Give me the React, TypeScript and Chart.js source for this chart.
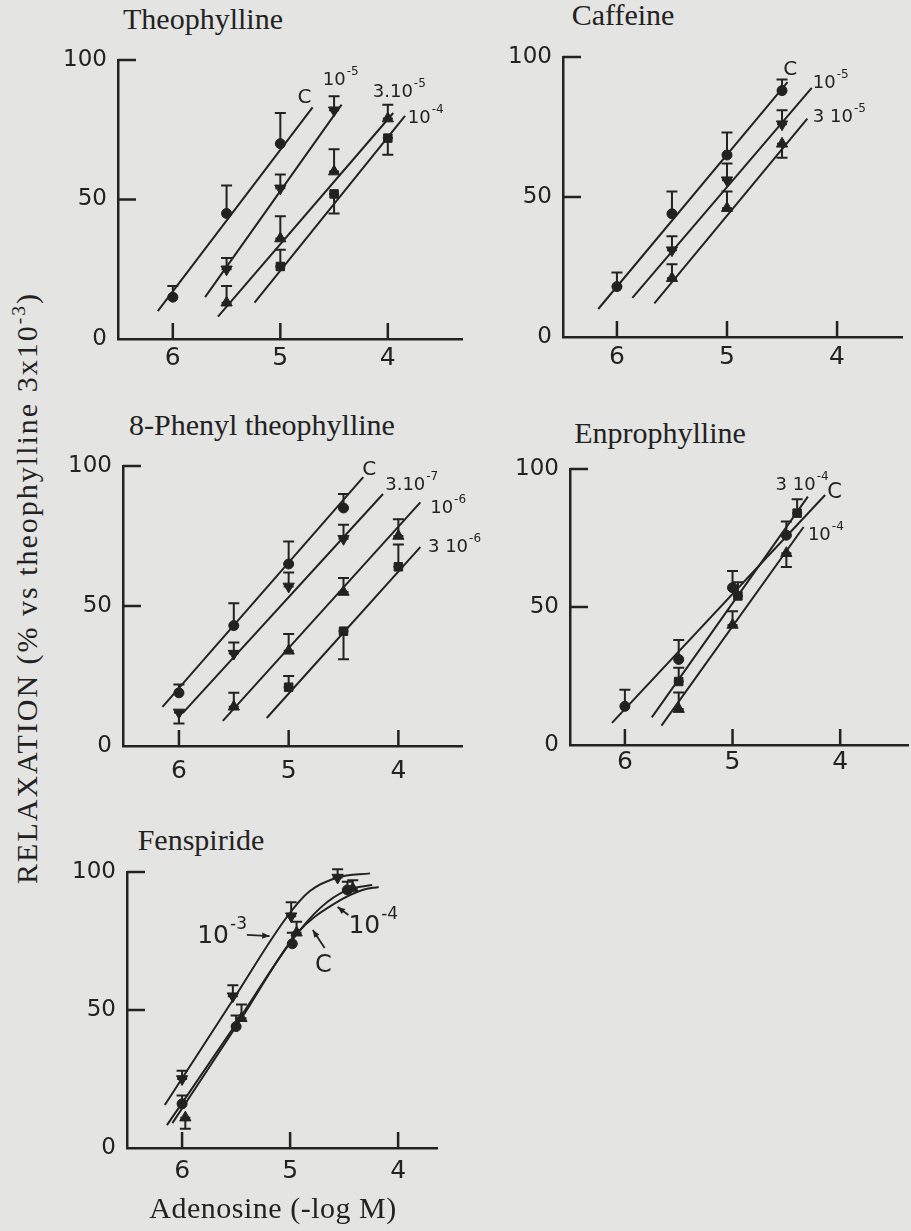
import React, { useEffect, useRef } from "react";
import { Chart, registerables } from "chart.js";

Chart.register(...registerables);

const INK = "#222222";
const PAPER = "#e4e4e2";
const SANS = "'DejaVu Sans', sans-serif";
const SERIF = "'Liberation Serif', serif";

// shared axis ticks
const X_TICKS = [6, 5, 4];
const Y_TICKS = [0, 50, 100];
const Y_MARKS = [50, 100];

// ---------- Theophylline ----------
const theoC_x = [6, 5.5, 5];
const theoC_y = [15, 45, 70];
const theoC_err = [4, 10, 11];
const theoC_fitX = [6.14, 4.7];
const theoC_fitY = [10, 83];

const theo1e5_x = [5.5, 5, 4.5];
const theo1e5_y = [25, 54, 82];
const theo1e5_err = [4, 5, 5];
const theo1e5_fitX = [5.7, 4.43];
const theo1e5_fitY = [15, 84];

const theo3e5_x = [5.5, 5, 4.5, 4];
const theo3e5_y = [13, 36, 60, 79];
const theo3e5_err = [6, 8, 8, 5];
const theo3e5_fitX = [5.58, 3.95];
const theo3e5_fitY = [8, 81];

const theo1e4_x = [5, 4.5, 4];
const theo1e4_y = [26, 52, 72];
const theo1e4_err = [6, -7, -6];
const theo1e4_fitX = [5.24, 3.84];
const theo1e4_fitY = [13, 80];

// ---------- Caffeine ----------
const cafC_x = [6, 5.5, 5, 4.5];
const cafC_y = [18, 44, 65, 88];
const cafC_err = [5, 8, 8, 4];
const cafC_fitX = [6.17, 4.45];
const cafC_fitY = [10, 91];

const caf1e5_x = [5.5, 5, 4.5];
const caf1e5_y = [31, 56, 76];
const caf1e5_err = [5, 6, 5];
const caf1e5_fitX = [5.86, 4.23];
const caf1e5_fitY = [14, 89];

const caf3e5_x = [5.5, 5, 4.5];
const caf3e5_y = [21, 46, 69];
const caf3e5_err = [5, 6, -5];
const caf3e5_fitX = [5.66, 4.27];
const caf3e5_fitY = [12, 78];

// ---------- 8-Phenyl theophylline ----------
const phC_x = [6, 5.5, 5, 4.5];
const phC_y = [19, 43, 65, 85];
const phC_err = [3, 8, 8, 5];
const phC_fitX = [6.15, 4.32];
const phC_fitY = [14, 96];

const ph3e7_x = [6, 5.5, 5, 4.5];
const ph3e7_y = [12, 33, 57, 74];
const ph3e7_err = [-4, 4, 5, 5];
const ph3e7_fitX = [5.96, 4.14];
const ph3e7_fitY = [12, 90];

const ph1e6_x = [5.5, 5, 4.5, 4];
const ph1e6_y = [14, 34, 55, 75];
const ph1e6_err = [5, 6, 5, 6];
const ph1e6_fitX = [5.6, 3.8];
const ph1e6_fitY = [9, 87];

const ph3e6_x = [5, 4.5, 4];
const ph3e6_y = [21, 41, 64];
const ph3e6_err = [4, -10, 8];
const ph3e6_fitX = [5.2, 3.8];
const ph3e6_fitY = [10, 71];

// ---------- Enprophylline ----------
const enC_x = [6, 5.5, 5, 4.5];
const enC_y = [14, 31, 57, 76];
const enC_err = [6, 7, 6, 5];
const enC_fitX = [6.12, 4.14];
const enC_fitY = [8, 90.6];

const en3e4_x = [5.5, 4.95, 4.4];
const en3e4_y = [23, 54, 84];
const en3e4_err = [5, 5, 5];
const en3e4_fitX = [5.75, 4.3];
const en3e4_fitY = [10, 90];

const en1e4_x = [5.5, 5, 4.5];
const en1e4_y = [13, 43.5, 69.5];
const en1e4_err = [6, 5, -5];
const en1e4_fitX = [5.66, 4.34];
const en1e4_fitY = [7, 79];

// ---------- Fenspiride ----------
const fen1e3_x = [6, 5.53, 4.99, 4.56];
const fen1e3_y = [25, 55, 84, 98];
const fen1e3_err = [3, 4, 5, 3];
const fen1e3_curveX = [6.16, 5.53, 5.03, 4.82, 4.56, 4.26];
const fen1e3_curveY = [15.6, 53.6, 83.7, 93, 98, 99.5];

const fenC_x = [6, 5.5, 4.98, 4.47];
const fenC_y = [16, 44, 74, 93.5];
const fenC_err = [3, 4, 4, 3];
const fenC_curveX = [6.14, 5.5, 4.98, 4.72, 4.47, 4.24];
const fenC_curveY = [8.3, 45, 75.4, 87, 93.5, 95.3];

const fen1e4_x = [5.97, 5.45, 4.94, 4.42];
const fen1e4_y = [11, 47, 78, 94];
const fen1e4_err = [-4, 5, 4, 3];
const fen1e4_curveX = [6.09, 5.45, 4.93, 4.57, 4.33, 4.18];
const fen1e4_curveY = [9, 47, 78, 89, 93.5, 94.6];

// ---------- types ----------
type Marker = "circle" | "triangle" | "rect" | "down";
type Series = { x: number[]; y: number[]; err: number[]; marker: Marker };
type Fit = { x: number[]; y: number[]; curve?: boolean };
type Label = { text: string; sup?: string; x: number; y: number; size: number };
type Arrow = { x1: number; y1: number; x2: number; y2: number };
type Panel = {
  key: string;
  title: string;
  titleX: number;
  titleTop: number;
  axisX: number;
  y0: number;
  y100: number;
  right: number;
  xLeft: number;
  xRight: number;
  xPad: number;
  fits: Fit[];
  series: Series[];
  labels: Label[];
  arrows: Arrow[];
};

const WY = 70;
const HX = 50;
const PAD_TOP = 30;
const PAD_RIGHT = 60;

const panels: Panel[] = [
  {
    key: "theo",
    title: "Theophylline",
    titleX: 203,
    titleTop: 4,
    axisX: 118,
    y0: 339,
    y100: 60,
    right: 462,
    xLeft: 6.51,
    xRight: 3.31,
    xPad: 4,
    fits: [
      { x: theoC_fitX, y: theoC_fitY },
      { x: theo1e5_fitX, y: theo1e5_fitY },
      { x: theo3e5_fitX, y: theo3e5_fitY },
      { x: theo1e4_fitX, y: theo1e4_fitY },
    ],
    series: [
      { x: theoC_x, y: theoC_y, err: theoC_err, marker: "circle" },
      { x: theo1e5_x, y: theo1e5_y, err: theo1e5_err, marker: "down" },
      { x: theo3e5_x, y: theo3e5_y, err: theo3e5_err, marker: "triangle" },
      { x: theo1e4_x, y: theo1e4_y, err: theo1e4_err, marker: "rect" },
    ],
    labels: [
      { text: "C", x: 4.84, y: 84.6, size: 20 },
      { text: "10", sup: "-5", x: 4.605, y: 91, size: 18 },
      { text: "3.10", sup: "-5", x: 4.14, y: 86.7, size: 18 },
      { text: "10", sup: "-4", x: 3.814, y: 77.4, size: 18 },
    ],
    arrows: [],
  },
  {
    key: "caf",
    title: "Caffeine",
    titleX: 623,
    titleTop: 0,
    axisX: 563,
    y0: 337,
    y100: 57,
    right: 902,
    xLeft: 6.49,
    xRight: 3.41,
    xPad: 5,
    fits: [
      { x: cafC_fitX, y: cafC_fitY },
      { x: caf1e5_fitX, y: caf1e5_fitY },
      { x: caf3e5_fitX, y: caf3e5_fitY },
    ],
    series: [
      { x: cafC_x, y: cafC_y, err: cafC_err, marker: "circle" },
      { x: caf1e5_x, y: caf1e5_y, err: caf1e5_err, marker: "down" },
      { x: caf3e5_x, y: caf3e5_y, err: caf3e5_err, marker: "triangle" },
    ],
    labels: [
      { text: "C", x: 4.49, y: 93.6, size: 20 },
      { text: "10", sup: "-5", x: 4.22, y: 88.9, size: 18 },
      { text: "3 10", sup: "-5", x: 4.22, y: 76.8, size: 18 },
    ],
    arrows: [],
  },
  {
    key: "ph",
    title: "8-Phenyl theophylline",
    titleX: 262,
    titleTop: 410,
    axisX: 123,
    y0: 746,
    y100: 466,
    right: 462,
    xLeft: 6.51,
    xRight: 3.42,
    xPad: 10,
    fits: [
      { x: phC_fitX, y: phC_fitY },
      { x: ph3e7_fitX, y: ph3e7_fitY },
      { x: ph1e6_fitX, y: ph1e6_fitY },
      { x: ph3e6_fitX, y: ph3e6_fitY },
    ],
    series: [
      { x: phC_x, y: phC_y, err: phC_err, marker: "circle" },
      { x: ph3e7_x, y: ph3e7_y, err: ph3e7_err, marker: "down" },
      { x: ph1e6_x, y: ph1e6_y, err: ph1e6_err, marker: "triangle" },
      { x: ph3e6_x, y: ph3e6_y, err: ph3e6_err, marker: "rect" },
    ],
    labels: [
      { text: "C", x: 4.33, y: 96.8, size: 20 },
      { text: "3.10", sup: "-7", x: 4.12, y: 91.4, size: 18 },
      { text: "10", sup: "-6", x: 3.71, y: 83.2, size: 18 },
      { text: "3 10", sup: "-6", x: 3.73, y: 69.3, size: 18 },
    ],
    arrows: [],
  },
  {
    key: "en",
    title: "Enprophylline",
    titleX: 660,
    titleTop: 418,
    axisX: 570,
    y0: 745,
    y100: 469,
    right: 908,
    xLeft: 6.51,
    xRight: 3.37,
    xPad: 2,
    fits: [
      { x: enC_fitX, y: enC_fitY },
      { x: en3e4_fitX, y: en3e4_fitY },
      { x: en1e4_fitX, y: en1e4_fitY },
    ],
    series: [
      { x: enC_x, y: enC_y, err: enC_err, marker: "circle" },
      { x: en3e4_x, y: en3e4_y, err: en3e4_err, marker: "rect" },
      { x: en1e4_x, y: en1e4_y, err: en1e4_err, marker: "triangle" },
    ],
    labels: [
      { text: "3 10", sup: "-4", x: 4.6, y: 92.4, size: 18 },
      { text: "C", x: 4.12, y: 89.5, size: 21 },
      { text: "10", sup: "-4", x: 4.3, y: 74.3, size: 18 },
    ],
    arrows: [],
  },
  {
    key: "fen",
    title: "Fenspiride",
    titleX: 201,
    titleTop: 825,
    axisX: 127,
    y0: 1148,
    y100: 872,
    right: 437,
    xLeft: 6.51,
    xRight: 3.64,
    xPad: 8,
    fits: [
      { x: fen1e3_curveX, y: fen1e3_curveY, curve: true },
      { x: fenC_curveX, y: fenC_curveY, curve: true },
      { x: fen1e4_curveX, y: fen1e4_curveY, curve: true },
    ],
    series: [
      { x: fen1e3_x, y: fen1e3_y, err: fen1e3_err, marker: "down" },
      { x: fenC_x, y: fenC_y, err: fenC_err, marker: "circle" },
      { x: fen1e4_x, y: fen1e4_y, err: fen1e4_err, marker: "triangle" },
    ],
    labels: [
      { text: "10", sup: "-3", x: 5.86, y: 74.3, size: 25 },
      { text: "C", x: 4.77, y: 63.8, size: 24 },
      { text: "10", sup: "-4", x: 4.46, y: 77.9, size: 25 },
    ],
    arrows: [
      { x1: 5.4, y1: 77.2, x2: 5.19, y2: 76.8 },
      { x1: 4.68, y1: 72.5, x2: 4.79, y2: 79 },
      { x1: 4.46, y1: 84.4, x2: 4.56, y2: 87.3 },
    ],
  },
];

function makeDecor(p: Panel) {
  return {
    id: "decor_" + p.key,
    beforeDatasetsDraw(chart: any) {
      const ctx = chart.ctx;
      const ys = chart.scales.y;
      const off = p.fits.length;
      ctx.save();
      ctx.strokeStyle = INK;
      ctx.lineWidth = 2;
      p.series.forEach((s, k) => {
        const meta = chart.getDatasetMeta(off + k);
        meta.data.forEach((pt: any, j: number) => {
          const top = ys.getPixelForValue(s.y[j] + s.err[j]);
          ctx.beginPath();
          ctx.moveTo(pt.x, pt.y);
          ctx.lineTo(pt.x, top);
          ctx.moveTo(pt.x - 5.5, top);
          ctx.lineTo(pt.x + 5.5, top);
          ctx.moveTo(pt.x - 5, pt.y);
          ctx.lineTo(pt.x + 5, pt.y);
          ctx.stroke();
        });
      });
      ctx.restore();
    },
    afterDraw(chart: any) {
      const ctx = chart.ctx;
      const xs = chart.scales.x;
      const ys = chart.scales.y;
      const area = chart.chartArea;
      ctx.save();
      ctx.strokeStyle = INK;
      ctx.fillStyle = INK;
      ctx.lineWidth = 2.5;
      // inward tick marks
      X_TICKS.forEach((v) => {
        const px = xs.getPixelForValue(v);
        ctx.beginPath();
        ctx.moveTo(px, area.bottom);
        ctx.lineTo(px, area.bottom - 16);
        ctx.stroke();
      });
      Y_MARKS.forEach((v) => {
        const py = ys.getPixelForValue(v);
        ctx.beginPath();
        ctx.moveTo(area.left, py);
        ctx.lineTo(area.left + 18, py);
        ctx.stroke();
      });
      // curve labels
      ctx.textBaseline = "alphabetic";
      ctx.textAlign = "left";
      p.labels.forEach((l) => {
        const px = xs.getPixelForValue(l.x);
        const py = ys.getPixelForValue(l.y);
        ctx.font = `${l.size}px ${SANS}`;
        ctx.fillText(l.text, px, py);
        if (l.sup) {
          const w = ctx.measureText(l.text).width;
          const ss = Math.round(l.size * 0.68);
          ctx.font = `${ss}px ${SANS}`;
          ctx.fillText(l.sup, px + w + 1, py - l.size * 0.55);
        }
      });
      // arrows
      ctx.lineWidth = 1.8;
      p.arrows.forEach((a) => {
        const x1 = xs.getPixelForValue(a.x1);
        const y1 = ys.getPixelForValue(a.y1);
        const x2 = xs.getPixelForValue(a.x2);
        const y2 = ys.getPixelForValue(a.y2);
        const ang = Math.atan2(y2 - y1, x2 - x1);
        ctx.beginPath();
        ctx.moveTo(x1, y1);
        ctx.lineTo(x2, y2);
        ctx.stroke();
        const h = 8;
        ctx.beginPath();
        ctx.moveTo(x2, y2);
        ctx.lineTo(x2 - h * Math.cos(ang - 0.4), y2 - h * Math.sin(ang - 0.4));
        ctx.lineTo(x2 - h * Math.cos(ang + 0.4), y2 - h * Math.sin(ang + 0.4));
        ctx.closePath();
        ctx.fill();
      });
      ctx.restore();
    },
  };
}

function markerRadius(m: Marker) {
  if (m === "rect") return 6;
  if (m === "circle") return 5;
  return 6.5;
}

function PanelChart({ p }: { p: Panel }) {
  const ref = useRef<HTMLCanvasElement | null>(null);
  const L = p.axisX - WY;
  const T = p.y100 - PAD_TOP;
  const W = p.right + PAD_RIGHT - L;
  const H = p.y0 + HX - T;

  useEffect(() => {
    if (!ref.current) return;
    const datasets: any[] = [];
    p.fits.forEach((f) => {
      datasets.push({
        type: "line",
        data: f.x.map((x, i) => ({ x, y: f.y[i] })),
        showLine: true,
        pointRadius: 0,
        borderColor: INK,
        borderWidth: 2,
        fill: false,
        clip: false,
        tension: 0,
        cubicInterpolationMode: f.curve ? "monotone" : "default",
      });
    });
    p.series.forEach((s) => {
      datasets.push({
        type: "scatter",
        data: s.x.map((x, i) => ({ x, y: s.y[i] })),
        showLine: false,
        pointStyle: s.marker === "down" ? "triangle" : s.marker,
        pointRotation: s.marker === "down" ? 180 : 0,
        pointRadius: markerRadius(s.marker),
        backgroundColor: INK,
        borderColor: INK,
        borderWidth: 1,
        clip: false,
      });
    });

    const chart = new Chart(ref.current, {
      type: "scatter",
      data: { datasets },
      options: {
        responsive: false,
        maintainAspectRatio: false,
        animation: false,
        devicePixelRatio: 1,
        events: [],
        layout: { padding: { top: PAD_TOP, right: PAD_RIGHT, left: 0, bottom: 0 } },
        plugins: {
          legend: { display: false },
          tooltip: { enabled: false },
          title: { display: false },
        },
        scales: {
          x: {
            type: "linear",
            reverse: true,
            min: p.xRight,
            max: p.xLeft,
            afterBuildTicks: (s: any) => {
              s.ticks = X_TICKS.map((v) => ({ value: v }));
            },
            afterFit: (s: any) => {
              s.height = HX;
            },
            grid: { display: false, drawTicks: false },
            border: { display: true, color: INK, width: 2.5 },
            ticks: {
              color: INK,
              font: { family: SANS, size: 25 },
              padding: p.xPad,
              autoSkip: false,
              maxRotation: 0,
              callback: (v: any) => String(v),
            },
          },
          y: {
            type: "linear",
            min: 0,
            max: 100,
            afterBuildTicks: (s: any) => {
              s.ticks = Y_TICKS.map((v) => ({ value: v }));
            },
            afterFit: (s: any) => {
              s.width = WY;
            },
            grid: { display: false, drawTicks: false },
            border: { display: true, color: INK, width: 2.5 },
            ticks: {
              color: INK,
              font: { family: SANS, size: 23 },
              padding: 11,
              autoSkip: false,
              callback: (v: any) => String(v),
            },
          },
        },
      } as any,
      plugins: [makeDecor(p)],
    });
    return () => chart.destroy();
  }, []);

  return (
    <canvas
      ref={ref}
      width={W}
      height={H}
      style={{ position: "absolute", left: L, top: T, width: W, height: H }}
    />
  );
}

const serifText: React.CSSProperties = {
  position: "absolute",
  fontFamily: SERIF,
  fontSize: 30,
  lineHeight: "30px",
  color: INK,
  whiteSpace: "nowrap",
};

export default function App() {
  return (
    <div
      style={{
        position: "fixed",
        left: 0,
        top: 0,
        width: 911,
        height: 1231,
        background: PAPER,
        overflow: "hidden",
      }}
    >
      {panels.map((p) => (
        <React.Fragment key={p.key}>
          <div style={{ ...serifText, left: p.titleX, top: p.titleTop, transform: "translateX(-50%)" }}>
            {p.title}
          </div>
          <PanelChart p={p} />
        </React.Fragment>
      ))}
      <div
        style={{
          ...serifText,
          left: 27,
          top: 588,
          letterSpacing: "2px",
          transform: "translate(-50%, -50%) rotate(-90deg)",
        }}
      >
        RELAXATION (% vs theophylline 3x10
        <span style={{ fontSize: "0.65em", position: "relative", top: "-0.6em", lineHeight: 0 }}>-3</span>)
      </div>
      <div style={{ ...serifText, left: 273, top: 1193, transform: "translateX(-50%)", letterSpacing: "0.5px" }}>
        Adenosine (-log M)
      </div>
    </div>
  );
}
